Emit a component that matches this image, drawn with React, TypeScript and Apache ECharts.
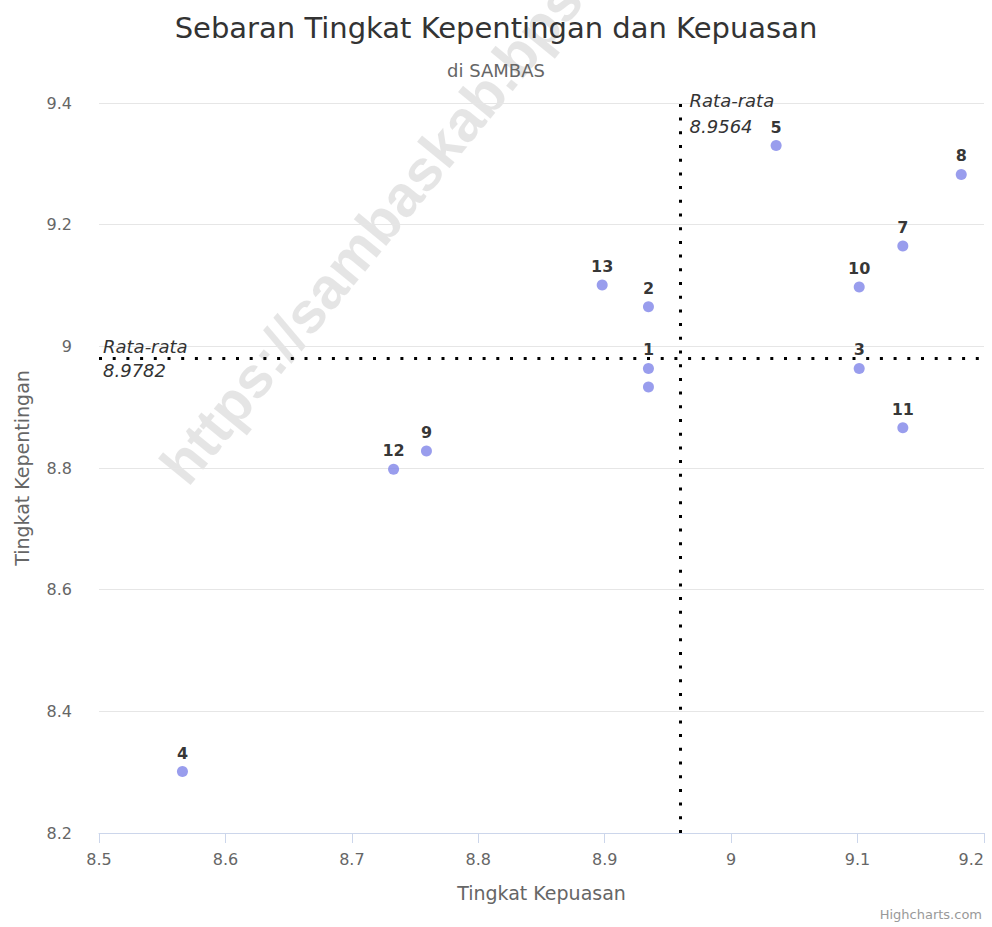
import React, { useEffect, useRef } from "react";
import * as echarts from "echarts";

// Point labels (aspect numbers)
const pointLabels = ["1", "2", "3", "4", "5", "6", "7", "8", "9", "10", "11", "12", "13"];
// Tingkat Kepuasan (x)
const kepuasan = [8.9346, 8.9346, 9.1013, 8.566, 9.0356, 8.9346, 9.1358, 9.182, 8.759, 9.1013, 9.1358, 8.733, 8.898];
// Tingkat Kepentingan (y)
const kepentingan = [8.9636, 9.065, 8.9636, 8.301, 9.33, 8.933, 9.165, 9.2826, 8.828, 9.0975, 8.866, 8.798, 9.101];
// Labels hidden (overlap) in the original
const hiddenLabels = ["6"];

const meanKepuasan = 8.9564;
const meanKepentingan = 8.9782;

const xTicks = { min: 8.5, max: 9.2, interval: 0.1 };
const yTicks = { min: 8.2, max: 9.4, interval: 0.2 };

const FONT = "DejaVu Sans";

export default function App() {
  const ref = useRef<HTMLDivElement>(null);

  useEffect(() => {
    if (!ref.current) return;
    const chart = echarts.init(ref.current, null, { renderer: "svg" });

    const data = pointLabels.map((name, i) => ({
      name,
      value: [kepuasan[i], kepentingan[i]],
      label: { show: !hiddenLabels.includes(name) },
    }));

    const fmt = (v: number) => Number(v.toFixed(1)).toString();

    chart.setOption({
      animation: false,
      backgroundColor: "#ffffff",
      textStyle: { fontFamily: FONT },
      title: [
        {
          text: "Sebaran Tingkat Kepentingan dan Kepuasan",
          left: "center",
          top: 8,
          textStyle: { fontFamily: FONT, fontSize: 29, fontWeight: "normal", color: "#333333" },
        },
        {
          text: "di SAMBAS",
          left: "center",
          top: 56,
          textStyle: { fontFamily: FONT, fontSize: 18, fontWeight: "normal", color: "#666666" },
        },
      ],
      graphic: [
        {
          type: "text",
          x: 195,
          y: 494,
          rotation: 0.885,
          z: -10,
          silent: true,
          style: {
            text: "https://sambaskab.bps.go.id",
            fontFamily: "Liberation Sans",
            fontWeight: "bold",
            fontSize: 58,
            fill: "rgba(0,0,0,0.10)",
            align: "left",
            verticalAlign: "bottom",
          },
        },
        {
          type: "text",
          right: 10,
          bottom: 6,
          style: {
            text: "Highcharts.com",
            fontFamily: FONT,
            fontSize: 13,
            fill: "#999999",
          },
        },
      ],
      grid: {
        left: 99,
        right: 8,
        top: 103,
        bottom: 94,
        containLabel: false,
        outerBoundsMode: "none",
      },
      xAxis: {
        type: "value",
        min: xTicks.min,
        max: xTicks.max,
        interval: xTicks.interval,
        name: "Tingkat Kepuasan",
        nameLocation: "middle",
        nameGap: 50,
        nameTextStyle: { fontFamily: FONT, fontSize: 19, color: "#666666" },
        axisLine: { show: true, lineStyle: { color: "#ccd6eb", width: 1 } },
        axisTick: { show: true, length: 10, lineStyle: { color: "#ccd6eb" } },
        axisLabel: {
          margin: 18,
          fontFamily: FONT,
          fontSize: 16,
          color: "#666666",
          formatter: fmt,
          alignMaxLabel: "right",
        },
        splitLine: { show: false },
      },
      yAxis: {
        type: "value",
        min: yTicks.min,
        max: yTicks.max,
        interval: yTicks.interval,
        name: "Tingkat Kepentingan",
        nameLocation: "middle",
        nameGap: 68,
        nameRotate: 90,
        nameTextStyle: { fontFamily: FONT, fontSize: 19, color: "#666666" },
        axisLine: { show: false },
        axisTick: { show: false },
        axisLabel: { margin: 27, fontFamily: FONT, fontSize: 16, color: "#666666", formatter: fmt },
        splitLine: { show: true, lineStyle: { color: "#e6e6e6", width: 1 } },
      },
      series: [
        {
          type: "scatter",
          symbol: "circle",
          symbolSize: 11,
          itemStyle: { color: "#8085e9" },
          label: {
            show: true,
            position: "top",
            distance: 5,
            formatter: "{b}",
            fontFamily: FONT,
            fontSize: 16,
            fontWeight: "bold",
            color: "#000000",
          },
          data,
          markLine: {
            silent: true,
            symbol: ["none", "none"],
            lineStyle: { color: "#000000", width: 3, type: [3, 10.7] },
            data: [
              {
                xAxis: meanKepuasan,
                label: {
                  show: true,
                  position: "end",
                  align: "left",
                  verticalAlign: "top",
                  distance: 16,
                  padding: [0, 0, 0, 9],
                  formatter: "Rata-rata\n" + meanKepuasan,
                  fontFamily: FONT,
                  fontStyle: "italic",
                  fontSize: 18,
                  lineHeight: 26,
                  color: "#333333",
                },
              },
              {
                yAxis: meanKepentingan,
                label: {
                  show: true,
                  position: "insideStart",
                  distance: 4,
                  formatter: "Rata-rata\n" + meanKepentingan,
                  fontFamily: FONT,
                  fontStyle: "italic",
                  fontSize: 18,
                  lineHeight: 24,
                  color: "#333333",
                },
              },
            ],
          },
        },
      ],
    });

    return () => chart.dispose();
  }, []);

  return (
    <div
      ref={ref}
      style={{ position: "absolute", left: 0, top: 0, width: 992, height: 927 }}
    />
  );
}
